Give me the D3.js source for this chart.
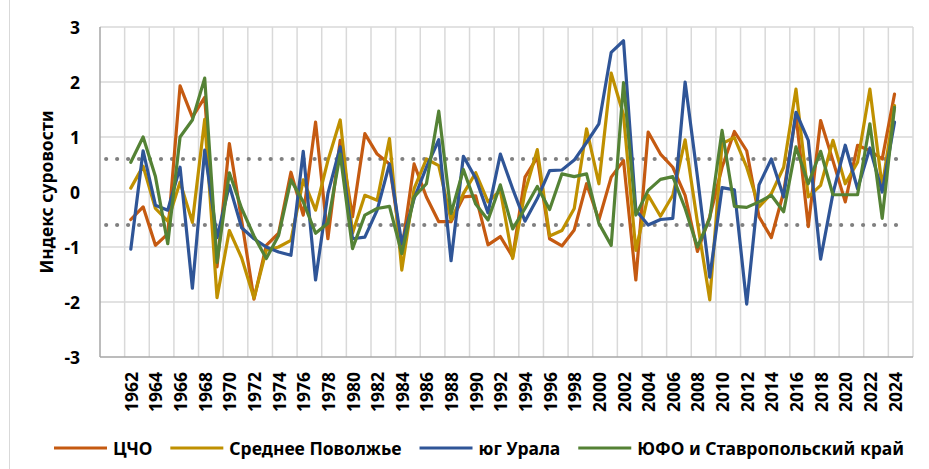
<!DOCTYPE html>
<html>
<head>
<meta charset="utf-8">
<script src="https://cdn.jsdelivr.net/npm/d3@7/dist/d3.min.js"></script>
<style>
  body { margin: 0; background: #fff; }
  svg { display: block; }
  text { font-family: "Noto Sans", "DejaVu Sans", sans-serif; font-weight: 700; fill: #000; }
</style>
</head>
<body>
<svg id="chart" width="929" height="469"></svg>
<script>
// Category slots of the horizontal axis (1960, 1961 and 2025 stay empty)
const axisYears = [1960, 1961, 1962, 1963, 1964, 1965, 1966, 1967, 1968, 1969,
  1970, 1971, 1972, 1973, 1974, 1975, 1976, 1977, 1978, 1979,
  1980, 1981, 1982, 1983, 1984, 1985, 1986, 1987, 1988, 1989,
  1990, 1991, 1992, 1993, 1994, 1995, 1996, 1997, 1998, 1999,
  2000, 2001, 2002, 2003, 2004, 2005, 2006, 2007, 2008, 2009,
  2010, 2011, 2012, 2013, 2014, 2015, 2016, 2017, 2018, 2019,
  2020, 2021, 2022, 2023, 2024, 2025];

// Years with observations
const years = [1962, 1963, 1964, 1965, 1966, 1967, 1968, 1969,
  1970, 1971, 1972, 1973, 1974, 1975, 1976, 1977, 1978, 1979,
  1980, 1981, 1982, 1983, 1984, 1985, 1986, 1987, 1988, 1989,
  1990, 1991, 1992, 1993, 1994, 1995, 1996, 1997, 1998, 1999,
  2000, 2001, 2002, 2003, 2004, 2005, 2006, 2007, 2008, 2009,
  2010, 2011, 2012, 2013, 2014, 2015, 2016, 2017, 2018, 2019,
  2020, 2021, 2022, 2023, 2024];

// Labelled years on the horizontal axis
const yearLabels = [1962, 1964, 1966, 1968, 1970, 1972, 1974, 1976, 1978, 1980,
  1982, 1984, 1986, 1988, 1990, 1992, 1994, 1996, 1998, 2000, 2002, 2004,
  2006, 2008, 2010, 2012, 2014, 2016, 2018, 2020, 2022, 2024];

// Winter severity index by region
const cho = [-0.50, -0.27, -0.97, -0.76, 1.93, 1.36, 1.72, -1.36,
  0.88, -0.52, -1.95, -0.97, -0.75, 0.36, -0.42, 1.27, -0.85, 0.94,
  -0.45, 1.06, 0.69, 0.51, -1.06, 0.51, -0.09, -0.54, -0.54, -0.09,
  -0.07, -0.96, -0.81, -1.18, 0.27, 0.63, -0.85, -0.98, -0.69, 0.15,
  -0.51, 0.27, 0.57, -1.60, 1.09, 0.69, 0.45, -0.06, -1.08, -0.45,
  0.45, 1.10, 0.75, -0.45, -0.83, 0.00, 1.40, -0.63, 1.30, 0.57,
  -0.18, 0.85, 0.75, 0.60, 1.78];

const volga = [0.07, 0.47, -0.30, -0.53, 0.18, -0.55, 1.32, -1.92,
  -0.70, -1.20, -1.93, -1.06, -1.00, -0.88, 0.22, -0.33, 0.57, 1.31,
  -0.75, -0.06, -0.15, 0.97, -1.42, 0.06, 0.60, 0.48, -0.51, -0.03,
  0.35, -0.18, 0.03, -1.21, 0.00, 0.77, -0.80, -0.70, -0.30, 1.15,
  0.15, 2.16, 1.40, -1.06, -0.06, -0.44, -0.06, 0.95, -0.55, -1.96,
  0.88, 0.99, 0.45, -0.27, -0.03, 0.45, 1.87, -0.09, 0.12, 0.94,
  0.15, 0.54, 1.87, 0.09, 1.57];

const urals = [-1.04, 0.75, -0.24, -0.33, 0.45, -1.75, 0.76, -0.83,
  0.12, -0.65, -0.85, -1.00, -1.09, -1.15, 0.74, -1.60, -0.03, 0.82,
  -0.85, -0.82, -0.33, 0.51, -0.94, -0.12, 0.45, 0.95, -1.25, 0.65,
  0.25, -0.38, 0.69, 0.06, -0.53, -0.12, 0.39, 0.40, 0.58, 0.90,
  1.24, 2.54, 2.75, -0.33, -0.60, -0.50, -0.48, 2.00, 0.28, -1.55,
  0.08, 0.04, -2.04, 0.13, 0.60, -0.09, 1.45, 0.94, -1.22, -0.03,
  0.85, 0.06, 0.80, 0.00, 1.27];

const south = [0.54, 1.00, 0.28, -0.94, 1.00, 1.31, 2.07, -1.28,
  0.35, -0.30, -0.80, -1.21, -0.79, 0.22, -0.18, -0.75, -0.57, 0.69,
  -1.03, -0.42, -0.30, -0.26, -1.12, -0.09, 0.15, 1.47, -0.39, 0.41,
  -0.22, -0.51, 0.13, -0.67, -0.30, 0.10, -0.32, 0.33, 0.28, 0.33,
  -0.57, -0.97, 1.99, -0.42, 0.03, 0.23, 0.28, -0.30, -1.00, -0.48,
  1.12, -0.26, -0.28, -0.18, -0.06, -0.36, 0.82, 0.15, 0.74, -0.05,
  -0.05, -0.05, 1.24, -0.48, 1.54];

const seriesNames = ["ЦЧО", "Среднее Поволжье", "юг Урала", "ЮФО и Ставропольский край"];
const yTicks = [-3, -2, -1, 0, 1, 2, 3];
const thresholds = [0.6, -0.6];
const yTitle = "Индекс суровости";

// ---- drawing ----
const palette = ["#C55A11", "#BF9000", "#2F5597", "#548235"];
const seriesValues = [cho, volga, urals, south];

const svg = d3.select("#chart");
const W = 929, H = 469;
const plot = { left: 100, right: 913, top: 27, bottom: 357 };

const x = d3.scaleBand().domain(axisYears).range([plot.left, plot.right]).paddingInner(0).paddingOuter(0);
const cx = yr => x(yr) + x.bandwidth() / 2;
const y = d3.scaleLinear().domain([-3, 3]).range([plot.bottom, plot.top]);

// outer frame line on the left
svg.append("line")
  .attr("x1", 9.5).attr("x2", 9.5).attr("y1", 0).attr("y2", H)
  .attr("stroke", "#d9d9d9").attr("stroke-width", 1);

// horizontal gridlines
svg.append("g")
  .selectAll("line").data(yTicks.filter(t => t !== -3)).join("line")
  .attr("x1", plot.left).attr("x2", plot.right)
  .attr("y1", d => y(d)).attr("y2", d => y(d))
  .attr("stroke", "#d9d9d9").attr("stroke-width", 1.5);

// vertical gridlines every second category
const gridYears = axisYears.filter((yr, i) => i % 2 === 0 && i > 0);
svg.append("g")
  .selectAll("line").data(gridYears).join("line")
  .attr("x1", d => x(d)).attr("x2", d => x(d))
  .attr("y1", plot.top).attr("y2", plot.bottom)
  .attr("stroke", "#d9d9d9").attr("stroke-width", 1.5);
svg.append("line")
  .attr("x1", plot.right).attr("x2", plot.right)
  .attr("y1", plot.top).attr("y2", plot.bottom)
  .attr("stroke", "#d9d9d9").attr("stroke-width", 1.5);

// axis lines
svg.append("line")
  .attr("x1", plot.left).attr("x2", plot.left)
  .attr("y1", plot.top).attr("y2", plot.bottom)
  .attr("stroke", "#a6a6a6").attr("stroke-width", 1.5);
svg.append("line")
  .attr("x1", plot.left).attr("x2", plot.right)
  .attr("y1", y(-3)).attr("y2", y(-3))
  .attr("stroke", "#a6a6a6").attr("stroke-width", 1.5);

// threshold dotted lines across all category slots
thresholds.forEach(t => {
  svg.append("path")
    .datum(axisYears)
    .attr("d", d3.line().x(d => cx(d)).y(() => y(t)))
    .attr("fill", "none")
    .attr("stroke", "#808080")
    .attr("stroke-width", 4.2)
    .attr("stroke-linecap", "round")
    .attr("stroke-dasharray", "0.01 10.96");
});

// series lines
const line = d3.line().x((d, i) => cx(years[i])).y(d => y(d));
seriesValues.forEach((vals, k) => {
  svg.append("path")
    .datum(vals)
    .attr("d", line)
    .attr("fill", "none")
    .attr("stroke", palette[k])
    .attr("stroke-width", 3.2)
    .attr("stroke-linejoin", "round")
    .attr("stroke-linecap", "round");
});

// y tick labels
svg.append("g")
  .selectAll("text").data(yTicks).join("text")
  .attr("x", 80).attr("y", d => y(d))
  .attr("text-anchor", "end")
  .attr("dominant-baseline", "central")
  .style("font-size", "17.5px")
  .text(d => d);

// y title
svg.append("text")
  .attr("transform", `translate(46,${(plot.top + plot.bottom) / 2}) rotate(-90)`)
  .attr("text-anchor", "middle")
  .attr("dominant-baseline", "central")
  .style("font-size", "17.5px")
  .text(yTitle);

// x tick labels (rotated)
svg.append("g")
  .selectAll("text").data(yearLabels).join("text")
  .attr("transform", d => `translate(${cx(d)},${plot.bottom + 15}) rotate(-90)`)
  .attr("text-anchor", "end")
  .attr("dominant-baseline", "central")
  .style("font-size", "17.5px")
  .text(d => d);

// legend
const legendY = 448, sampleLen = 53, textGap = 6, itemGap = 18;
const lg = svg.append("g");
const items = seriesNames.map((name, k) => {
  const g = lg.append("g");
  g.append("line").attr("x1", 0).attr("x2", sampleLen).attr("y1", 0).attr("y2", 0)
    .attr("stroke", palette[k]).attr("stroke-width", 3);
  const t = g.append("text").attr("x", sampleLen + textGap).attr("y", 0)
    .attr("dominant-baseline", "central").style("font-size", "17.5px").text(name);
  return { g, w: sampleLen + textGap + t.node().getComputedTextLength() };
});
const totalW = d3.sum(items, d => d.w) + itemGap * (items.length - 1);
let lx = 479 - totalW / 2;
items.forEach(it => {
  it.g.attr("transform", `translate(${lx},${legendY})`);
  lx += it.w + itemGap;
});
</script>
</body>
</html>
